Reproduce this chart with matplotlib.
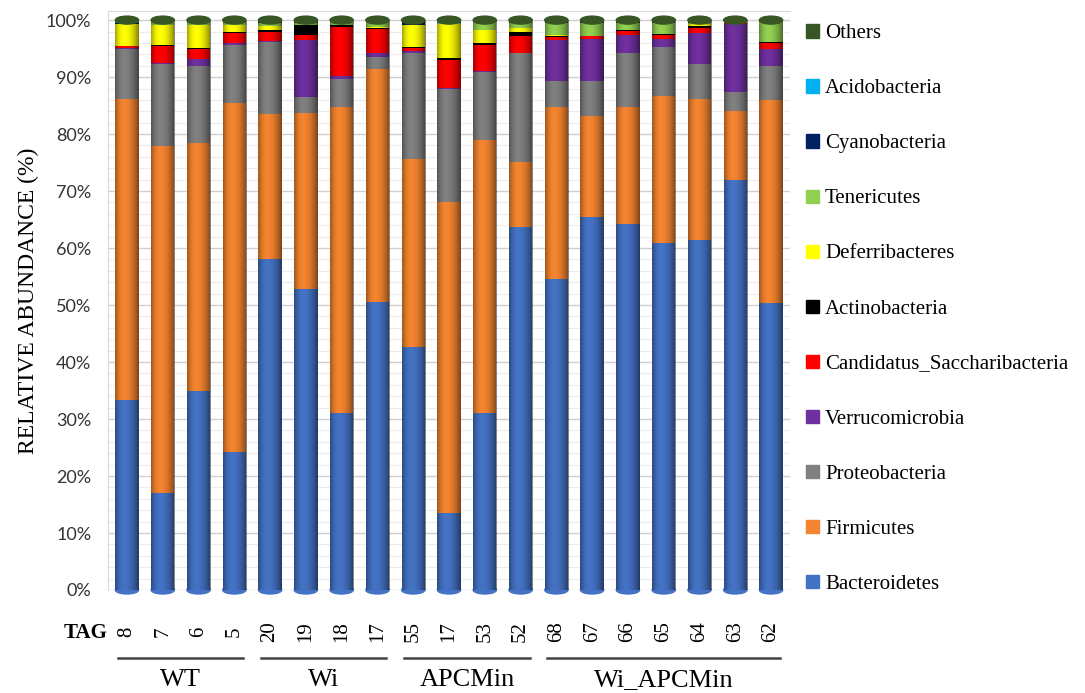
import numpy as np
import matplotlib
matplotlib.use('Agg')
from matplotlib import pyplot as plt
from matplotlib.patches import Patch, Ellipse
import matplotlib.transforms as mtransforms

# sample tags and groups
tags = ['8', '7', '6', '5', '20', '19', '18', '17', '55', '17', '53', '52',
        '68', '67', '66', '65', '64', '63', '62']
groups = ['WT', 'Wi', 'APCMin', 'Wi_APCMin']
group_sizes = [4, 4, 4, 7]

# relative abundance (%) per phylum, one value per sample
bacteroidetes = [33.3, 17.0, 35.0, 24.2, 58.0, 52.9, 31.0, 50.5, 42.6, 13.5, 31.0, 63.7, 54.5, 65.4, 64.2, 60.9, 61.4, 71.9, 50.3]
firmicutes = [52.8, 60.9, 43.4, 61.2, 25.6, 30.8, 53.8, 41.0, 33.0, 54.6, 47.9, 11.4, 30.3, 17.8, 20.5, 25.8, 24.7, 12.1, 35.7]
proteobacteria = [8.8, 14.4, 13.6, 10.3, 12.6, 2.8, 4.8, 2.1, 18.6, 19.9, 12.0, 19.1, 4.6, 6.2, 9.5, 8.5, 6.2, 3.3, 5.9]
verrucomicrobia = [0.2, 0.2, 1.1, 0.2, 0.2, 10.0, 0.6, 0.6, 0.4, 0.1, 0.1, 0.1, 7.1, 7.2, 3.2, 1.4, 5.4, 12.1, 3.0]
candidatus = [0.3, 2.9, 1.8, 1.8, 1.5, 0.9, 8.6, 4.2, 0.5, 4.9, 4.7, 2.9, 0.6, 0.6, 0.7, 0.8, 1.0, 0.1, 1.0]
actinobacteria = [0.1, 0.2, 0.2, 0.2, 0.3, 1.7, 0.3, 0.3, 0.1, 0.4, 0.3, 0.7, 0.2, 0.1, 0.1, 0.1, 0.3, 0.0, 0.2]
deferribacteres = [3.8, 3.6, 4.0, 1.2, 0.8, 0.1, 0.1, 0.1, 3.9, 6.0, 2.2, 0.7, 0.1, 0.0, 0.0, 0.0, 0.3, 0.0, 0.0]
tenericutes = [0.1, 0.5, 0.4, 0.5, 0.5, 0.3, 0.5, 0.8, 0.1, 0.1, 1.5, 0.9, 2.1, 2.2, 1.3, 2.0, 0.2, 0.1, 3.5]
cyanobacteria = [0.1, 0.0, 0.0, 0.0, 0.2, 0.0, 0.0, 0.0, 0.6, 0.0, 0.0, 0.0, 0.2, 0.2, 0.0, 0.2, 0.0, 0.2, 0.0]
acidobacteria = [0.3, 0.1, 0.1, 0.1, 0.0, 0.0, 0.0, 0.0, 0.0, 0.3, 0.0, 0.0, 0.0, 0.0, 0.0, 0.0, 0.0, 0.0, 0.0]
others = [0.2, 0.2, 0.4, 0.3, 0.3, 0.5, 0.3, 0.4, 0.2, 0.2, 0.3, 0.5, 0.3, 0.3, 0.5, 0.3, 0.5, 0.2, 0.4]

phyla = ['Bacteroidetes', 'Firmicutes', 'Proteobacteria', 'Verrucomicrobia',
         'Candidatus_Saccharibacteria', 'Actinobacteria', 'Deferribacteres',
         'Tenericutes', 'Cyanobacteria', 'Acidobacteria', 'Others']
series = [bacteroidetes, firmicutes, proteobacteria, verrucomicrobia, candidatus,
          actinobacteria, deferribacteres, tenericutes, cyanobacteria, acidobacteria, others]
colors = ['#4472C4', '#F4842F', '#808080', '#7030A0', '#FF0000', '#000000',
          '#FFFF00', '#92D050', '#002060', '#00B0F0', '#375623']

fig = plt.figure(figsize=(10.85, 6.93), dpi=100)
ax = fig.add_axes([108 / 1085, 103 / 693, 682 / 1085, 579 / 693])

x = np.arange(len(tags))
w = 0.65
bottom = np.zeros(len(tags))
for vals, col in zip(series, colors):
    ax.bar(x, vals, w, bottom=bottom, color=col, edgecolor='none', zorder=2)
    bottom += np.array(vals)

# cylinder look: shading overlay + round ends
u = np.linspace(0, 1, 64)
shade = np.where(u < 0.38, ((0.38 - u) / 0.38) ** 2 * 0.35, ((u - 0.38) / 0.62) ** 2 * 0.5)
grad = np.zeros((1, 64, 4))
grad[0, :, 3] = shade
for xi, top in zip(x, bottom):
    ax.imshow(grad, extent=(xi - w / 2, xi + w / 2, 0, top), aspect='auto', zorder=3, interpolation='bilinear')
    ax.add_patch(Ellipse((xi, top), w, 1.4, color=colors[-1], zorder=4, clip_on=False))
    ax.add_patch(Ellipse((xi, 0), w, 1.4, color=colors[0], zorder=1, clip_on=False))

ax.set_xlim(-0.53, len(tags) - 0.47)
ax.set_ylim(0, 101.6)
ax.set_yticks(np.arange(0, 101, 10))
ax.set_yticklabels(['%d%%' % v for v in range(0, 101, 10)], fontsize=13, family='Lato', color='#333333')
ax.set_yticks(np.arange(0, 101, 2), minor=True)
ax.grid(axis='y', which='major', color='#cfcfcf', lw=1.0, zorder=0)
ax.grid(axis='y', which='minor', color='#ececec', lw=0.8, zorder=0)
ax.tick_params(axis='y', which='both', length=0, pad=12)
ax.set_ylabel('RELATIVE ABUNDANCE (%)', fontsize=17, family='Liberation Serif', labelpad=5)

ax.set_xticks(x)
ax.set_xticklabels(tags, rotation=90, va='center', ha='center', fontsize=15, family='Liberation Serif')
ax.tick_params(axis='x', length=0, pad=30)

for s in ['right', 'bottom']:
    ax.spines[s].set_visible(False)
for s in ['left', 'top']:
    ax.spines[s].set_color('#d9d9d9')

trans = mtransforms.blended_transform_factory(ax.transData, ax.transAxes)
ax.text(-1.15, -0.0737, 'TAG', transform=trans, ha='center', va='center',
        fontsize=15, fontweight='bold', family='Liberation Serif')
start = 0
for name, n in zip(groups, group_sizes):
    a, b = start - 0.25, start + n - 1 + 0.25
    ax.plot([a, b], [-0.1175, -0.1175], transform=trans, color='#444444', lw=1.8, clip_on=False)
    ax.text((a + b) / 2, -0.156, name, transform=trans, ha='center', va='center',
            fontsize=19, family='Liberation Serif')
    start += n

handles = [Patch(color=c, label=p) for p, c in zip(phyla, colors)][::-1]
fig.legend(handles=handles, loc='upper left', bbox_to_anchor=(798 / 1085, 1 - 16 / 693),
           frameon=False, handlelength=0.6, handleheight=0.6,
           handletextpad=0.3, labelspacing=1.73, borderaxespad=0,
           prop={'family': 'Liberation Serif', 'size': 15})

fig.savefig('out.png', dpi=100)
